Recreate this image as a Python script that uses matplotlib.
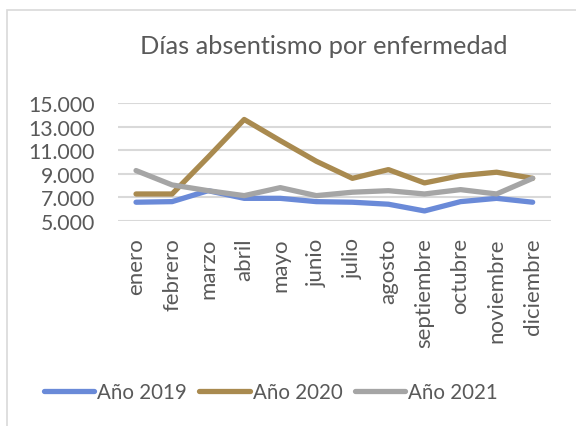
import matplotlib
matplotlib.use("Agg")
import matplotlib.pyplot as plt
from matplotlib.patches import Rectangle
import numpy as np

months = ["enero", "febrero", "marzo", "abril", "mayo", "junio", "julio",
          "agosto", "septiembre", "octubre", "noviembre", "diciembre"]
y2019 = [6570, 6620, 7550, 6900, 6900, 6620, 6570, 6400, 5830, 6620, 6900, 6570]
y2020 = [7270, 7270, 10400, 13600, 11800, 10050, 8600, 9340, 8210, 8830, 9120, 8600]
y2021 = [9260, 8040, 7550, 7130, 7810, 7130, 7420, 7550, 7270, 7640, 7270, 8600]
yticks = [5000, 7000, 9000, 11000, 13000, 15000]
ytick_labels = ["5.000", "7.000", "9.000", "11.000", "13.000", "15.000"]
series_names = ["Año 2019", "Año 2020", "Año 2021"]
colors = ["#6A8AD8", "#A98A4F", "#A5A5A5"]
title = "Días absentismo por enfermedad"

plt.rcParams['font.family'] = ['Lato', 'DejaVu Sans']
W, H = 576, 427
fig = plt.figure(figsize=(W / 100, H / 100), dpi=100)
fig.patch.set_facecolor("white")

# chart border (partially cropped)
fig.patches.append(Rectangle((7 / W, -0.2), 2.0, 1.2 - 11 / H, transform=fig.transFigure,
                             fill=False, edgecolor="#D9D9D9", linewidth=1.2))

ax = fig.add_axes([118 / W, 1 - 221.7 / H, (550.7 - 118) / W, (221.7 - 104) / H])
x = np.arange(len(months))
for vals, name, c in zip([y2019, y2020, y2021], series_names, colors):
    ax.plot(x, vals, color=c, linewidth=3.8, label=name, solid_capstyle="round",
            solid_joinstyle="round")

ax.set_xlim(-0.5, len(months) - 0.5)
ax.set_ylim(5000, 15000)
ax.set_yticks(yticks)
ax.set_yticklabels(ytick_labels)
ax.set_xticks(x)
ax.set_xticklabels(months, rotation=90, va="top", ha="center")
ax.tick_params(axis="both", length=0, labelcolor="#595959")
ax.tick_params(axis="y", labelsize=15.3, pad=16.5)
ax.tick_params(axis="x", labelsize=16, pad=12)
ax.grid(axis="y", color="#D9D9D9", linewidth=1.5)
ax.set_axisbelow(True)
for s in ax.spines.values():
    s.set_visible(False)

fig.text(324 / W, 1 - 47 / H, title, ha="center", va="center", fontsize=18.3,
         color="#595959")

leg = fig.legend(loc="center", bbox_to_anchor=(271 / W, 1 - 393 / H), ncol=3,
                 frameon=False, fontsize=14.8, handlelength=2.45, handletextpad=0.15,
                 columnspacing=0.6, labelcolor="#595959")
for line in leg.get_lines():
    line.set_linewidth(3.8)
    line.set_solid_capstyle("round")

fig.savefig("out.png", dpi=100, facecolor="white")
